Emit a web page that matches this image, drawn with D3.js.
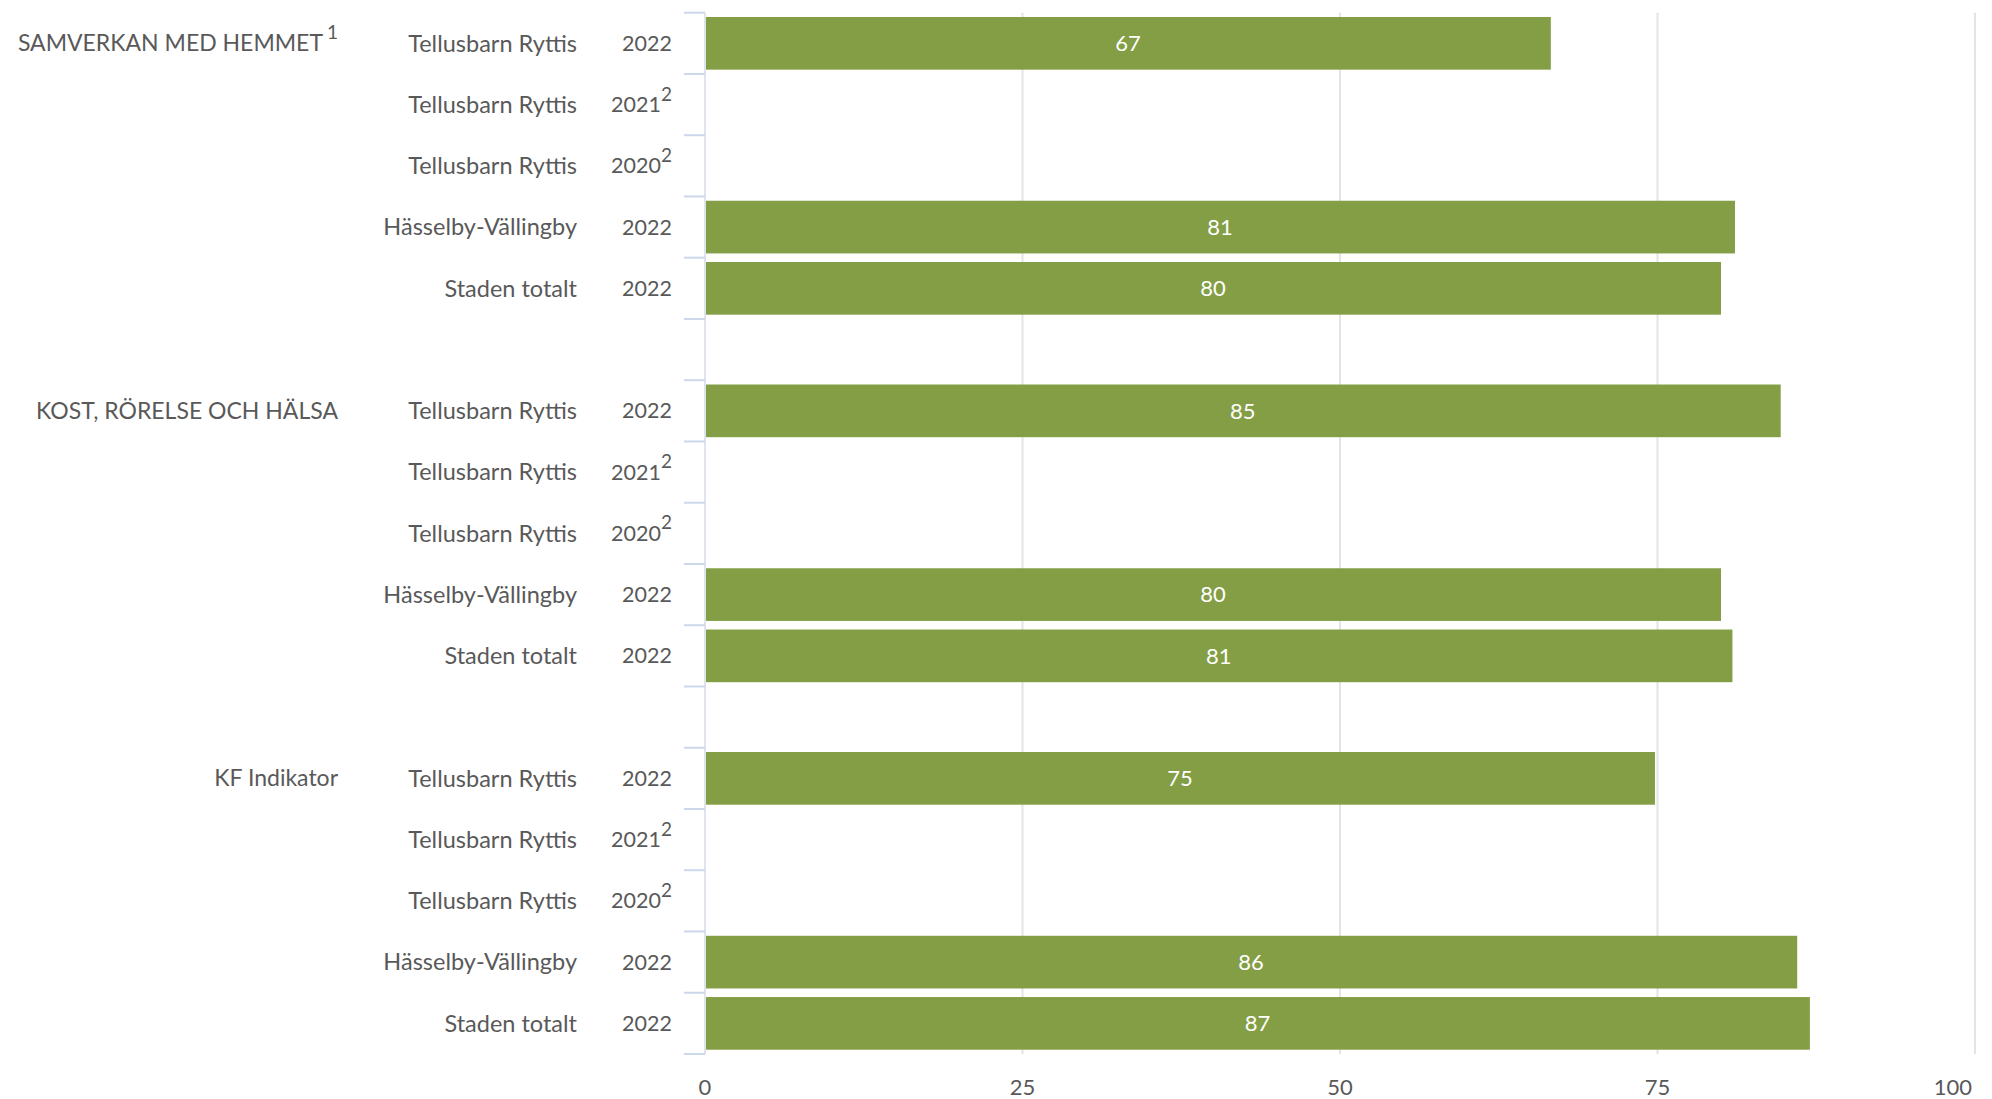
<!DOCTYPE html>
<html>
<head>
<meta charset="utf-8">
<script src="https://cdn.jsdelivr.net/npm/d3@7"></script>
<style>
  html, body { margin: 0; padding: 0; background: #fff; }
  svg { display: block; font-family: Lato, 'Open Sans', sans-serif; }
</style>
</head>
<body>
<div id="chart"></div>
<script>
const groups = ['SAMVERKAN MED HEMMET', 'KOST, RÖRELSE OCH HÄLSA', 'KF Indikator']
const groupNotes = ['1', '', '']
const units = ['Tellusbarn Ryttis', 'Tellusbarn Ryttis', 'Tellusbarn Ryttis', 'Hässelby-Vällingby', 'Staden totalt']
const years = ['2022', '2021', '2020', '2022', '2022']
const yearNotes = ['', '2', '2', '', '']
const samverkan = [66.6, null, null, 81.1, 80.0]
const kost = [84.7, null, null, 80.0, 80.9]
const kfIndikator = [74.8, null, null, 86.0, 87.0]
const xTicks = [0, 25, 50, 75, 100]

const groupValues = [samverkan, kost, kfIndikator]
const rows = []
groups.forEach((g, gi) => {
  units.forEach((u, ri) => {
    rows.push({ key: `${gi}-${ri}`, group: gi, first: ri === 0, unit: u, year: years[ri], note: yearNotes[ri], value: groupValues[gi][ri] })
  })
  if (gi < groups.length - 1) rows.push({ key: `gap${gi}`, gap: true })
})

const width = 1992
const height = 1099
const margin = { top: 12.7, right: 17, bottom: 45, left: 705 }
const svg = d3.select('#chart')
  .append('svg')
  .attr('width', width)
  .attr('height', height)
  .attr('viewBox', [0, 0, width, height])

const xScale = d3.scaleLinear()
  .domain([0, 100])
  .range([margin.left, width - margin.right])
const yScale = d3.scaleBand()
  .domain(rows.map(d => d.key))
  .range([margin.top, height - margin.bottom])
  .paddingInner(0.14)
  .paddingOuter(0.07)
const step = yScale.step()
const bw = yScale.bandwidth()
const y0 = margin.top
const y1 = height - margin.bottom

// gridlines
svg.append('g')
  .selectAll('line')
  .data(xTicks.slice(1))
  .join('line')
  .attr('x1', d => xScale(d))
  .attr('x2', d => xScale(d))
  .attr('y1', y0)
  .attr('y2', y1)
  .attr('stroke', '#e4e4e4')
  .attr('stroke-width', 2)

// y axis line and ticks on band boundaries
svg.append('line')
  .attr('x1', xScale(0))
  .attr('x2', xScale(0))
  .attr('y1', y0)
  .attr('y2', y1)
  .attr('stroke', '#dfe3ea')
  .attr('stroke-width', 2)
const boundaries = rows.map(d => yScale(d.key) + bw / 2 - step / 2)
boundaries.push(boundaries[boundaries.length - 1] + step)
svg.append('g')
  .selectAll('line')
  .data(boundaries)
  .join('line')
  .attr('x1', xScale(0) - 21)
  .attr('x2', xScale(0))
  .attr('y1', d => d)
  .attr('y2', d => d)
  .attr('stroke', '#ccd7ea')
  .attr('stroke-width', 2)

// bars
const barRows = rows.filter(d => !d.gap && d.value != null)
svg.append('g')
  .selectAll('rect')
  .data(barRows)
  .join('rect')
  .attr('x', xScale(0) + 1)
  .attr('y', d => yScale(d.key))
  .attr('width', d => xScale(d.value) - xScale(0) - 1)
  .attr('height', bw)
  .attr('fill', '#839e45')

svg.append('g')
  .selectAll('text')
  .data(barRows)
  .join('text')
  .attr('x', d => (xScale(0) + xScale(d.value)) / 2)
  .attr('y', d => yScale(d.key) + bw / 2)
  .attr('dy', '0.35em')
  .attr('text-anchor', 'middle')
  .attr('fill', '#fff')
  .attr('font-size', 22)
  .text(d => d3.format('.0f')(d.value))

// row labels
const labelRows = rows.filter(d => !d.gap)
svg.append('g')
  .selectAll('text')
  .data(labelRows)
  .join('text')
  .attr('x', 577)
  .attr('y', d => yScale(d.key) + bw / 2)
  .attr('dy', '0.35em')
  .attr('text-anchor', 'end')
  .attr('fill', '#595959')
  .attr('font-size', 23.5)
  .text(d => d.unit)

const yearText = svg.append('g')
  .selectAll('text')
  .data(labelRows)
  .join('text')
  .attr('x', 672)
  .attr('y', d => yScale(d.key) + bw / 2)
  .attr('dy', '0.35em')
  .attr('text-anchor', 'end')
  .attr('fill', '#595959')
  .attr('font-size', 21.5)
yearText.append('tspan').text(d => d.year)
yearText.filter(d => d.note)
  .append('tspan')
  .attr('font-size', 19)
  .attr('dy', '-0.6em')
  .text(d => d.note)

// group labels
const groupText = svg.append('g')
  .selectAll('text')
  .data(rows.filter(d => d.first))
  .join('text')
  .attr('x', 338)
  .attr('y', d => yScale(d.key) + bw / 2)
  .attr('dy', '0.35em')
  .attr('text-anchor', 'end')
  .attr('fill', '#595959')
  .attr('font-size', 23)
groupText.append('tspan').text(d => groups[d.group])
groupText.filter(d => groupNotes[d.group])
  .append('tspan')
  .attr('font-size', 19)
  .attr('dx', 4)
  .attr('dy', '-0.65em')
  .text(d => groupNotes[d.group])

// x axis labels
svg.append('g')
  .selectAll('text')
  .data(xTicks)
  .join('text')
  .attr('x', (d, i) => i === xTicks.length - 1 ? xScale(d) - 3 : xScale(d))
  .attr('y', 1087)
  .attr('dy', '0.35em')
  .attr('text-anchor', (d, i) => i === xTicks.length - 1 ? 'end' : 'middle')
  .attr('fill', '#595959')
  .attr('font-size', 22)
  .text(d => d)
</script>
</body>
</html>
